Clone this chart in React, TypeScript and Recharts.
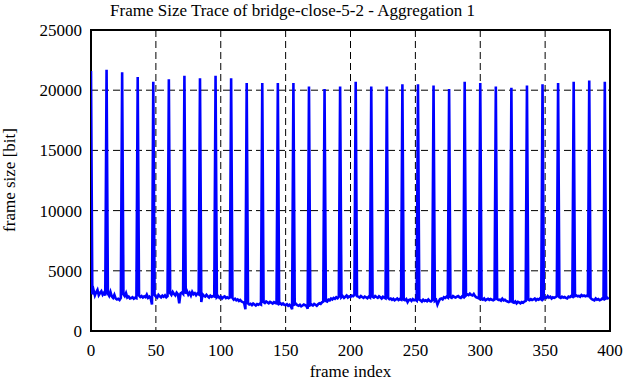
import { LineChart, Line, XAxis, YAxis, CartesianGrid, ReferenceArea } from "recharts"

// frame sizes in bits, one row per GOP of 12 frames (I-frame first)
const frameSizes = [
  21600, 3050, 3380, 2950, 3210, 3420, 2980, 3150, 3300, 3020, 3180, 2950,
  21700, 3100, 2920, 3250, 2880, 2760, 3010, 2700, 2620, 2680, 2580, 2750,
  21500, 3050, 2900, 3150, 2780, 2860, 2700, 2740, 2810, 2680, 2760, 2720,
  21100, 2950, 2820, 2900, 2780, 2870, 2810, 3020, 2760, 2850, 2700, 2200,
  20700, 2980, 2850, 2760, 3000, 2880, 2790, 2930, 2840, 2960, 2800, 2900,
  20900, 3150, 3000, 3240, 3080, 2960, 3180, 3050, 2300, 3120, 3200, 3080,
  21200, 3100, 3300, 3020, 3180, 2940, 3250, 3060, 3150, 2980, 3120, 3050,
  21000, 2400, 3050, 2920, 2860, 3000, 2880, 2780, 2930, 2840, 2900, 2870,
  21200, 2800, 2900, 2760, 2850, 2700, 2820, 2880, 2740, 2800, 2720, 2780,
  21000, 2750, 2600, 2680, 2550, 2620, 2500, 2580, 2450, 2400, 2350, 1800,
  20600, 2300, 2200, 2250, 2150, 2280, 2200, 2120, 2240, 2180, 2260, 2200,
  20600, 2400, 2320, 2450, 2380, 2300, 2420, 2350, 2280, 2400, 2330, 2300,
  20600, 2250, 2300, 2200, 2280, 2180, 2150, 2220, 2100, 2180, 2050, 1800,
  20600, 2200, 2250, 2150, 2100, 2180, 2050, 2120, 2200, 2150, 2080, 1850,
  20300, 2150, 2200, 2120, 2250, 2180, 2100, 2220, 2300, 2250, 2380, 2450,
  20100, 2500, 2450, 2600, 2550, 2700, 2620, 2750, 2680, 2800, 2720, 2850,
  20300, 2800, 2900, 2750, 2850, 2950, 2780, 2880, 2820, 2950, 2900, 3000,
  20700, 2900, 2850, 2780, 2900, 2820, 2750, 2860, 2800, 2720, 2850, 2780,
  20300, 2850, 2780, 2900, 2820, 2750, 2880, 2800, 2700, 2850, 2780, 2720,
  20300, 2750, 2650, 2700, 2600, 2680, 2550, 2620, 2700, 2580, 2650, 2600,
  20500, 2600, 2550, 2650, 2400, 2580, 2620, 2500, 2650, 2560, 2600, 2520,
  20500, 2600, 2550, 2450, 2600, 2500, 2550, 2480, 2620, 2500, 2450, 2550,
  20400, 2500, 2580, 2200, 2450, 2650, 2700, 2620, 2800, 2750, 2850, 2780,
  20100, 2800, 2750, 2900, 2820, 2780, 2850, 2900, 2800, 2750, 2880, 2820,
  20700, 2950, 3050, 2980, 3100, 3000, 2950, 3080, 2900, 2800, 2750, 2700,
  20600, 2650, 2600, 2700, 2550, 2620, 2680, 2580, 2650, 2600, 2550, 2620,
  20300, 2650, 2580, 2600, 2520, 2680, 2550, 2600, 2500, 2450, 2400, 2450,
  20200, 2400, 2350, 2450, 2300, 2420, 2380, 2300, 2400, 2350, 2450, 2500,
  20400, 2600, 2550, 2650, 2580, 2620, 2700, 2550, 2650, 2600, 2700, 2620,
  20500, 2700, 2800, 2750, 2900, 2780, 2850, 2700, 2800, 2750, 2820, 2880,
  20600, 2800, 2750, 2850, 2780, 2820, 2750, 2700, 2850, 2800, 2900, 2850,
  20700, 2900, 2950, 2880, 2920, 2850, 2980, 2900, 2950, 2880, 2920, 2900,
  20800, 2750, 2650, 2600, 2550, 2700, 2600, 2650, 2550, 2600, 2700, 2650,
  20700, 2700, 2750, 2650,
]

const frameTicks = [0, 50, 100, 150, 200, 250, 300, 350, 400]
const sizeTicks = [0, 5000, 10000, 15000, 20000, 25000]

const chartTitle = "Frame Size Trace of bridge-close-5-2 - Aggregation 1"
const xLabel = "frame index"
const yLabel = "frame size [bit]"

const FONT = "'Liberation Serif', serif"

export default function App() {
  const data = frameSizes.map((size, frame) => ({ frame, size }))
  const tickStyle = { fill: "#000", fontSize: 17, fontFamily: FONT, style: { fontFamily: FONT } }
  const textStyle = { fontFamily: FONT, fontSize: 17 }

  return (
    <div style={{ position: "absolute", left: 0, top: 0, width: 626, height: 382, background: "#fff", fontFamily: FONT }}>
      <LineChart width={626} height={382} data={data} margin={{ top: 30, right: 16, bottom: 21, left: 11 }} style={{ fontFamily: FONT }}>
        <CartesianGrid stroke="#000" strokeDasharray="7 4" strokeWidth={1} />
        <XAxis
          dataKey="frame"
          type="number"
          domain={[0, 400]}
          ticks={frameTicks}
          height={30}
          axisLine={false}
          tickLine={false}
          tickSize={0}
          tickMargin={13}
          tick={tickStyle}
          allowDataOverflow
        />
        <YAxis
          type="number"
          domain={[0, 25000]}
          ticks={sizeTicks}
          width={80}
          axisLine={false}
          tickLine={false}
          tickSize={0}
          tickMargin={9}
          tick={tickStyle}
          allowDataOverflow
        />
        {/* inward tick marks on all four sides */}
        <XAxis xAxisId="bt" type="number" dataKey="frame" domain={[0, 400]} ticks={frameTicks} mirror tick={false} tickSize={6} axisLine={false} tickLine={{ stroke: "#000", strokeWidth: 1.5 }} />
        <XAxis xAxisId="tt" orientation="top" type="number" dataKey="frame" domain={[0, 400]} ticks={frameTicks} mirror tick={false} tickSize={6} axisLine={false} tickLine={{ stroke: "#000", strokeWidth: 1.5 }} />
        <YAxis yAxisId="lt" type="number" domain={[0, 25000]} ticks={sizeTicks} mirror tick={false} tickSize={6} axisLine={false} tickLine={{ stroke: "#000", strokeWidth: 1.5 }} />
        <YAxis yAxisId="rt" orientation="right" type="number" domain={[0, 25000]} ticks={sizeTicks} mirror tick={false} tickSize={6} axisLine={false} tickLine={{ stroke: "#000", strokeWidth: 1.5 }} />
        <Line
          type="linear"
          dataKey="size"
          stroke="#0000ff"
          strokeWidth={2.6}
          dot={false}
          isAnimationActive={false}
        />
        <ReferenceArea x1={0} x2={400} y1={0} y2={25000} fill="none" stroke="#000" strokeWidth={2} ifOverflow="visible" />
      </LineChart>
      <svg width={626} height={382} style={{ position: "absolute", left: 0, top: 0, pointerEvents: "none" }}>
        <text x={292.5} y={16} textAnchor="middle" style={textStyle} fill="#000">
          {chartTitle}
        </text>
        <text x={350.5} y={377} textAnchor="middle" style={textStyle} fill="#000">
          {xLabel}
        </text>
        <text x={15} y={180} textAnchor="middle" style={textStyle} fill="#000" transform="rotate(-90 15 180)">
          {yLabel}
        </text>
      </svg>
    </div>
  )
}
